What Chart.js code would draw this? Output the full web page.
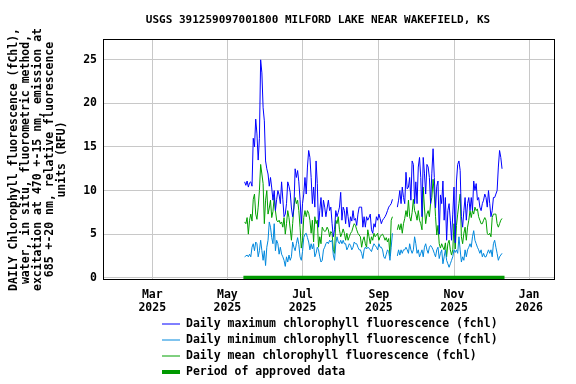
<!DOCTYPE html>
<html>
<head>
<meta charset="utf-8">
<script src="https://cdn.jsdelivr.net/npm/chart.js@4"></script>
<style>
  html, body { margin: 0; padding: 0; background: #fff; }
</style>
</head>
<body>
<canvas id="myChart" width="576" height="384"></canvas>
<script>
// chart text
const chartTitle = 'USGS 391259097001800 MILFORD LAKE NEAR WAKEFIELD, KS';
const yTitle = [
    'DAILY Chlorophyll fluorescence (fChl),',
    'water, in situ, fluorometric method,',
    'excitation at 470 +-15 nm, emission at',
    '685 +-20 nm, relative fluorescence',
    'units (RFU)'
];

// axes
const xStart = '2025-01-20';
const xEnd = '2026-01-22';
const tickDates = ['2025-03-01', '2025-05-01', '2025-07-01', '2025-09-01', '2025-11-01', '2026-01-01'];
const tickMonths = ['Mar', 'May', 'Jul', 'Sep', 'Nov', 'Jan'];
const tickYears = ['2025', '2025', '2025', '2025', '2025', '2026'];
const yTicks = [0, 5, 10, 15, 20, 25];

// daily values, one per day from firstDate
const firstDate = '2025-05-15';
const approvedStart = '2025-05-14';
const approvedEnd = '2025-12-12';

const dailyMax = [
    11.0, 10.6, 11.1, 10.4, 10.9, 11.0, 10.5, 16.0, 15.0, 18.2,
    16.5, 13.5, 16.0, 25.0, 23.5, 19.5, 18.0, 13.4, 12.5, 11.9,
    10.5, 11.5, 10.3, 8.9, 10.0, 7.7, 9.0, 10.0, 9.5, 8.5,
    11.0, 9.0, 7.0, 7.3, 8.5, 11.0, 10.5, 9.8, 8.0, 7.0,
    8.0, 12.5, 11.5, 12.3, 11.0, 9.0, 6.2, 8.5, 9.6, 11.5,
    9.6, 12.7, 14.6, 13.8, 11.5, 8.5, 10.4, 8.1, 13.4, 10.8,
    5.8, 7.7, 9.2, 7.0, 8.9, 8.1, 7.0, 8.0, 8.9, 7.7,
    8.1, 6.2, 4.7, 5.5, 7.7, 7.0, 7.5, 8.1, 9.8, 6.6,
    8.1, 7.7, 6.2, 8.1, 7.0, 5.8, 7.0, 6.5, 7.7, 6.6,
    6.8, 6.0, 7.3, 8.1, 8.1, 8.1, 5.8, 7.0, 5.8, 7.0,
    6.6, 6.9, 7.3, 5.5, 5.1, 6.2, 5.8, 7.0, 6.6, 7.3,
    6.8, 6.2, 6.6, 6.8, 7.0, 7.3, 7.7, 8.1, 8.3, 8.5,
    9.0, null, null, null, 8.1, 8.9, 10.0, 8.5, 10.4, 9.2,
    8.5, 12.1, 10.2, 10.4, 11.5, 8.9, 13.4, 13.0, 8.5, 11.0,
    8.5, 12.7, 13.8, 11.5, 7.0, 13.8, 12.0, 9.6, 13.0, 12.7,
    11.5, 8.5, 12.0, 14.8, 11.5, 8.0, 10.5, 11.1, 5.0, 9.5,
    8.5, 11.1, 6.6, 9.2, 4.3, 7.7, 8.5, 6.6, 4.3, 7.3,
    10.4, 4.0, 11.1, 13.0, 13.4, 12.3, 7.0, 5.8, 7.7, 9.2,
    6.6, 8.5, 9.2, 7.7, 9.2, 7.7, 11.1, 10.0, 10.8, 8.9,
    9.2, 8.1, 7.7, 8.5, 8.9, 9.6, 9.2, 8.1, 10.0, 8.5,
    7.0, 7.7, 9.2, 9.2, 9.6, 10.0, 12.7, 14.6, 13.8, 12.5
];

const dailyMin = [
    2.4, 2.5, 2.6, 2.4, 2.7, 2.4, 3.5, 3.9, 3.1, 4.1,
    3.9, 2.4, 3.1, 4.3, 3.1, 2.0, 3.1, 1.4, 3.5, 4.3,
    6.4, 5.8, 4.6, 3.9, 6.2, 3.1, 4.3, 3.9, 2.7, 3.5,
    2.7, 2.4, 2.0, 1.3, 2.4, 1.8, 2.6, 2.0, 2.4, 4.1,
    3.5, 3.1, 3.9, 4.6, 3.8, 2.4, 2.0, 3.0, 4.6, 5.0,
    5.1, 4.6, 4.1, 3.2, 3.9, 3.3, 3.9, 2.4, 2.8, 3.5,
    3.2, 2.4, 1.8, 2.0, 3.2, 3.5, 3.9, 4.1, 3.9, 4.3,
    4.1, 4.3, 2.6, 2.0, 3.9, 4.7, 4.1, 3.9, 4.3, 3.9,
    4.3, 3.9, 3.9, 3.2, 3.5, 3.9, 3.7, 3.2, 3.5, 4.1,
    3.9, 3.9, 3.5, 3.2, 3.2, 2.8, 2.2, 3.2, 3.5, 3.3,
    3.5, 3.4, 3.2, 3.0, 3.5, 3.9, 3.7, 3.5, 3.2, 3.9,
    3.5, 3.5, 3.2, 2.4, 2.2, 2.7, 3.2, 3.0, 2.0, 3.5,
    5.1, null, null, null, 2.5, 3.2, 2.6, 3.2, 2.8, 3.2,
    3.2, 3.5, 3.2, 2.8, 3.9, 3.2, 2.8, 3.2, 4.7, 3.9,
    2.8, 3.2, 2.4, 2.8, 3.2, 2.4, 3.5, 3.9, 3.2, 2.8,
    3.5, 3.7, 3.5, 3.2, 2.8, 2.4, 3.2, 3.5, 2.2, 2.8,
    3.2, 1.6, 2.4, 3.2, 2.0, 1.6, 1.2, 1.6, 2.0, 2.4,
    3.2, 2.9, 3.2, 2.8, 4.7, 3.2, 1.8, 2.4, 2.0, 3.2,
    2.4, 3.2, 3.5, 3.9, 3.5, 4.7, 5.4, 4.3, 3.9, 3.5,
    3.2, 2.8, 3.2, 2.4, 2.8, 2.4, 2.4, 2.8, 3.2, 2.8,
    3.2, 2.4, 3.9, 4.3, 3.5, 2.8, 2.0, 2.4, 2.6, 2.8
];

const dailyMean = [
    6.4, 6.2, 6.9, 5.0, 6.6, 7.3, 6.5, 9.0, 9.6, 7.3,
    6.7, 8.1, 10.0, 13.0, 11.9, 10.8, 6.2, 8.9, 10.0, 7.3,
    8.0, 8.9, 6.9, 7.6, 9.2, 7.7, 6.6, 6.4, 6.6, 6.2,
    6.4, 5.8, 6.9, 5.0, 6.2, 7.7, 6.9, 5.6, 4.3, 6.2,
    8.1, 9.2, 8.5, 8.9, 7.7, 5.8, 3.4, 4.3, 6.9, 7.7,
    7.0, 7.7, 7.4, 6.6, 5.1, 6.6, 4.1, 7.0, 6.2, 6.6,
    3.5, 4.7, 3.9, 5.8, 5.5, 5.3, 5.4, 5.8, 5.5, 4.7,
    5.3, 5.1, 3.2, 2.8, 6.6, 6.2, 7.0, 5.5, 4.7, 5.1,
    5.6, 5.1, 4.3, 5.1, 4.3, 4.7, 5.1, 5.3, 5.8, 6.2,
    6.0, 5.5, 5.1, 4.9, 4.7, 3.5, 4.3, 4.7, 3.9, 3.5,
    5.5, 4.7, 3.9, 4.7, 4.3, 5.1, 4.7, 4.9, 5.1, 4.3,
    4.7, 4.9, 5.0, 4.7, 4.3, 4.6, 4.1, 4.5, 2.5, 6.6,
    7.0, null, null, null, 5.5, 6.1, 5.5, 6.2, 5.1, 6.2,
    6.8, 7.7, 7.0, 8.9, 7.0, 6.5, 7.5, 9.0, 7.7, 7.3,
    6.6, 7.7, 6.6, 6.2, 5.5, 10.4, 8.0, 6.2, 7.3, 7.7,
    7.0, 8.5, 9.2, 11.3, 9.6, 7.0, 4.9, 6.0, 3.9, 3.4,
    3.9, 3.5, 3.2, 4.0, 2.4, 3.9, 4.3, 3.2, 2.6, 3.2,
    6.2, 3.3, 6.0, 7.3, 8.5, 9.6, 4.7, 3.9, 5.1, 5.8,
    4.3, 5.8, 6.6, 7.7, 6.9, 7.7, 7.3, 8.1, 7.7, 7.9,
    7.0, 6.6, 6.2, 6.2, 6.6, 6.9, 6.6, 5.1, 4.9, 5.1,
    4.7, 6.9, 7.3, 7.3, 7.3, 6.2, 5.8, 6.2, 6.6, 6.8
];

// day number counted from 1 Jan 2025
function dayNum(dateStr) {
    const p = dateStr.split('-').map(Number);
    return (Date.UTC(p[0], p[1] - 1, p[2]) - Date.UTC(2025, 0, 1)) / 86400000;
}

const firstDay = dayNum(firstDate);
const toPoints = values => values.map((v, i) => ({ x: firstDay + i, y: v }));

const data = {
    datasets: [
        {
            label: 'Daily maximum chlorophyll fluorescence (fchl)',
            borderColor: '#0000ff',
            borderWidth: 1,
            data: toPoints(dailyMax),
        },
        {
            label: 'Daily minimum chlorophyll fluorescence (fchl)',
            borderColor: '#0088dd',
            borderWidth: 1,
            data: toPoints(dailyMin),
        },
        {
            label: 'Daily mean chlorophyll fluorescence (fchl)',
            borderColor: '#00a000',
            borderWidth: 1,
            data: toPoints(dailyMean),
        },
        {
            label: 'Period of approved data',
            borderColor: '#009900',
            borderWidth: 4,
            borderCapStyle: 'butt',
            data: [
                { x: dayNum(approvedStart), y: 0 },
                { x: dayNum(approvedEnd), y: 0 }
            ],
        },
    ]
};

// frame, title and legend
const chartDecor = {
    id: 'chartDecor',
    afterDraw(chart) {
        const { ctx, chartArea: a } = chart;
        ctx.save();
        ctx.strokeStyle = '#000';
        ctx.lineWidth = 1;
        ctx.strokeRect(a.left + 0.5, a.top + 0.5, a.right - a.left - 1, a.bottom - a.top - 1);

        ctx.fillStyle = '#000';
        ctx.font = "bold 11px 'DejaVu Sans Mono'";
        ctx.textAlign = 'center';
        ctx.textBaseline = 'middle';
        ctx.fillText(chartTitle, 318, 20);

        ctx.font = "bold 11.5px 'DejaVu Sans Mono'";
        ctx.textAlign = 'left';
        chart.data.datasets.forEach((ds, i) => {
            const y = 324 + i * 16;
            ctx.strokeStyle = ds.borderColor;
            ctx.lineWidth = ds.borderWidth;
            ctx.beginPath();
            ctx.moveTo(162, y);
            ctx.lineTo(180, y);
            ctx.stroke();
            ctx.fillText(ds.label, 186, y);
        });
        ctx.restore();
    }
};

Chart.defaults.font.family = "'DejaVu Sans Mono', monospace";
Chart.defaults.font.size = 11.5;
Chart.defaults.font.weight = 'bold';
Chart.defaults.color = '#000';

const config = {
    type: 'line',
    data,
    options: {
        responsive: false,
        animation: false,
        layout: { padding: { left: 0, right: 21, top: 39, bottom: 59 } },
        elements: { point: { radius: 0 }, line: { tension: 0 } },
        plugins: {
            legend: { display: false },
            title: { display: false },
            tooltip: { enabled: false }
        },
        scales: {
            x: {
                type: 'linear',
                min: dayNum(xStart),
                max: dayNum(xEnd),
                afterBuildTicks: s => { s.ticks = tickDates.map(d => ({ value: dayNum(d) })); },
                afterFit: s => { s.height = 45; },
                grid: { color: '#c8c8c8', drawTicks: false },
                border: { display: false },
                ticks: {
                    padding: 9,
                    maxRotation: 0,
                    autoSkip: false,
                    font: { lineHeight: '13px' },
                    callback: (v, i) => [tickMonths[i], tickYears[i]]
                }
            },
            y: {
                min: -0.26,
                max: 27.39,
                afterBuildTicks: s => { s.ticks = yTicks.map(v => ({ value: v })); },
                afterFit: s => { s.width = 103; },
                grid: { color: '#c8c8c8', drawTicks: false },
                border: { display: false },
                ticks: { padding: 6 },
                title: {
                    display: true,
                    text: yTitle,
                    padding: { top: 8, bottom: 0 },
                    font: { lineHeight: '12px' }
                }
            }
        }
    },
    plugins: [chartDecor]
};

var myChart = new Chart(document.getElementById('myChart'), config);
</script>
</body>
</html>
